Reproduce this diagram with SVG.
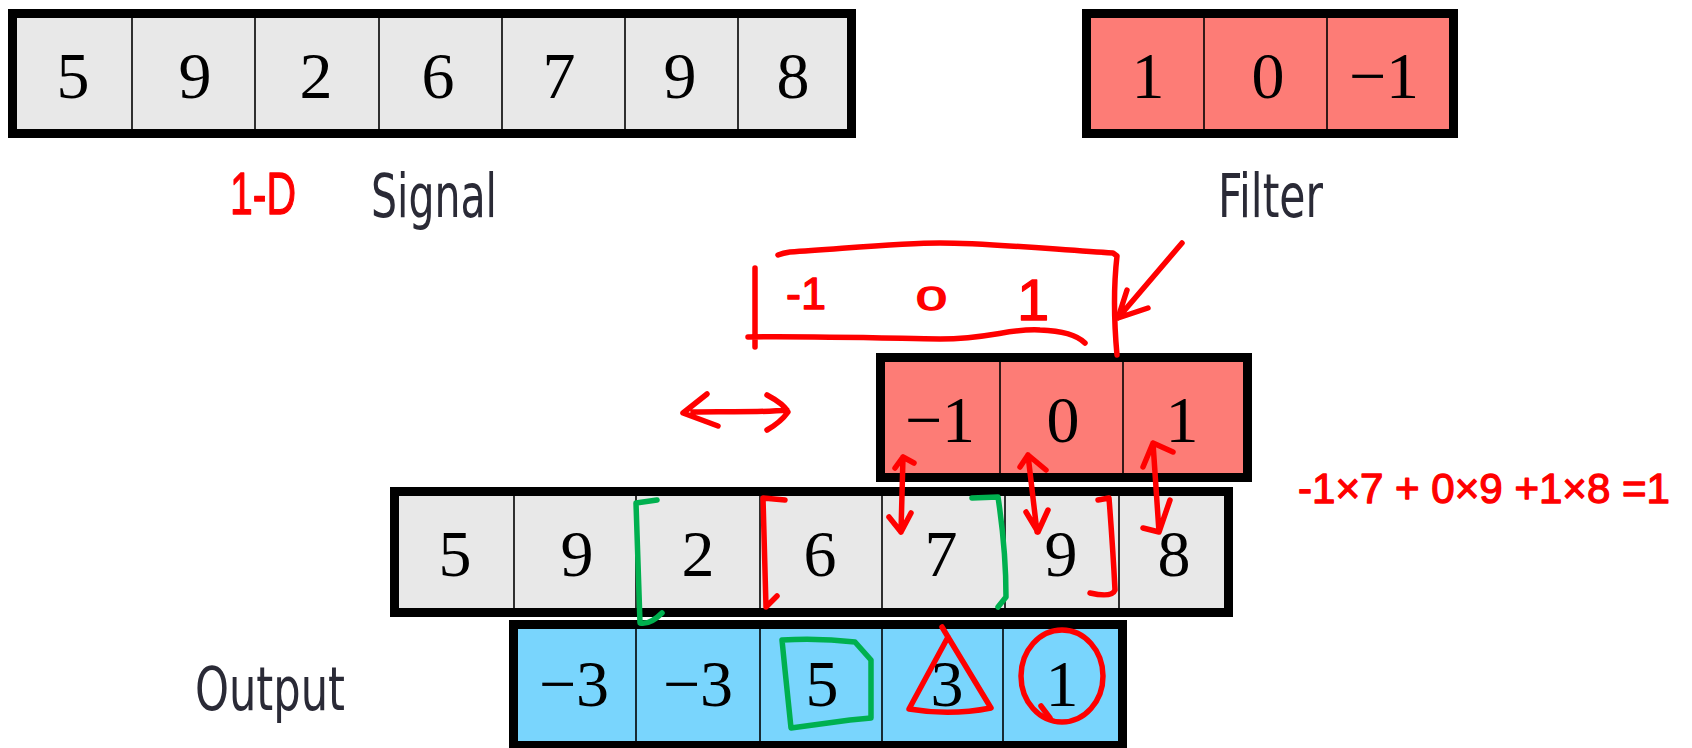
<svg xmlns="http://www.w3.org/2000/svg" width="1692" height="748" viewBox="0 0 1692 748">
<style>
.box{stroke:#000;stroke-width:9}
.sig{fill:#e8e8e8}
.flt{fill:#fd7c76}
.out{fill:#79d5fd}
.div{stroke:#000;stroke-width:1.6}
.num{font-family:"Liberation Serif","Times New Roman",serif;font-size:66px;text-anchor:middle;fill:#000}
.lbl{font-family:"Liberation Sans Narrow","DejaVu Sans Condensed","Liberation Sans",sans-serif;font-stretch:condensed;font-size:60px;fill:#2a2a36}
.red{fill:none;stroke:#ff0000;stroke-width:5.5;stroke-linecap:round;stroke-linejoin:round}
.grn{fill:none;stroke:#00b04f;stroke-width:5.5;stroke-linecap:round;stroke-linejoin:round}
.ht{font-family:"Liberation Sans",Arial,sans-serif;fill:#ff0000;stroke:#ff0000;stroke-width:1.3;stroke-linejoin:round}
</style>
<rect width="1692" height="748" fill="#fff"/>

<g id="signal">
<rect class="box sig" x="12.5" y="13.5" width="839" height="120"/>
<g class="div"><line x1="132" y1="18" x2="132" y2="129"/><line x1="255" y1="18" x2="255" y2="129"/><line x1="379" y1="18" x2="379" y2="129"/><line x1="502" y1="18" x2="502" y2="129"/><line x1="625" y1="18" x2="625" y2="129"/><line x1="738" y1="18" x2="738" y2="129"/></g>
<g class="num"><text x="73" y="98">5</text><text x="195" y="98">9</text><text x="316" y="98">2</text><text x="438" y="98">6</text><text x="559" y="98">7</text><text x="680" y="98">9</text><text x="793" y="98">8</text></g>
</g>

<g id="filter">
<rect class="box flt" x="1086.5" y="13.5" width="367" height="120"/>
<g class="div"><line x1="1204" y1="18" x2="1204" y2="129"/><line x1="1327" y1="18" x2="1327" y2="129"/></g>
<g class="num"><text x="1148" y="98">1</text><text x="1268" y="98">0</text><text x="1384" y="98">−1</text></g>
</g>

<text id="signal-label" class="lbl" x="371" y="217" textLength="126" lengthAdjust="spacingAndGlyphs">Signal</text>
<text id="filter-label" class="lbl" x="1218" y="217" textLength="105" lengthAdjust="spacingAndGlyphs">Filter</text>
<text id="output-label" class="lbl" x="195" y="710" textLength="150" lengthAdjust="spacingAndGlyphs">Output</text>

<g id="flipped-filter">
<rect class="box flt" x="880.5" y="357.5" width="367" height="120"/>
<g class="div"><line x1="1000" y1="362" x2="1000" y2="473"/><line x1="1123" y1="362" x2="1123" y2="473"/></g>
<g class="num"><text x="940" y="442">−1</text><text x="1063" y="442">0</text><text x="1182" y="442">1</text></g>
</g>

<g id="signal-shifted">
<rect class="box sig" x="394.5" y="491.5" width="834" height="121"/>
<g class="div"><line x1="514" y1="496" x2="514" y2="608"/><line x1="636" y1="496" x2="636" y2="608"/><line x1="760" y1="496" x2="760" y2="608"/><line x1="882" y1="496" x2="882" y2="608"/><line x1="1005" y1="496" x2="1005" y2="608"/><line x1="1119" y1="496" x2="1119" y2="608"/></g>
<g class="num"><text x="455" y="576">5</text><text x="577" y="576">9</text><text x="698" y="576">2</text><text x="820" y="576">6</text><text x="941" y="576">7</text><text x="1061" y="576">9</text><text x="1174" y="576">8</text></g>
</g>

<g id="output">
<rect class="box out" x="513.5" y="624.5" width="609" height="121"/>
<g class="div"><line x1="636" y1="629" x2="636" y2="742"/><line x1="760" y1="629" x2="760" y2="742"/><line x1="882" y1="629" x2="882" y2="742"/><line x1="1003" y1="629" x2="1003" y2="742"/></g>
<g class="num"><text x="574" y="706">−3</text><text x="698" y="706">−3</text><text x="822" y="706">5</text><text x="947" y="706">3</text><text x="1062" y="706">1</text></g>
</g>

<g id="connectors">
<path class="red" d="M693,412 C720,411 760,413 787,410 M707,394 L683,413 L718,426 M767,395 Q784,404 788,412 Q781,422 767,430"/>
<path class="red" d="M903,457 L901,532 M895,468 L903,457 L914,463 M889,517 L901,532 L911,513"/>
<path class="red" d="M1028,455 L1037,532 M1020,467 L1028,455 L1046,470 M1026,512 L1038,532 L1048,510"/>
<path class="red" d="M1153,443 L1159,532 M1143,467 L1153,443 L1173,452 M1143,528 L1159,532 L1170,500"/>
<path class="red" d="M1182,243 L1118,318 M1127,290 L1118,318 L1148,308"/>
</g>

<g id="annotations">
<text class="ht" x="230" y="214" font-size="60" textLength="66" lengthAdjust="spacingAndGlyphs">1-D</text>
<path class="red" d="M778,255 Q783,253 790,252 C840,249 900,243 940,243 C990,243 1060,250 1113,253 L1117,256 Q1112,300 1117,355"/>
<path class="red" d="M748,337 C800,336 880,338 940,339 C990,339 1010,328 1040,330 C1070,331 1080,338 1085,343 M755,268 L755,347"/>
<text class="ht" x="786" y="309" font-size="44" textLength="40" lengthAdjust="spacingAndGlyphs">-1</text>
<text class="ht" x="916" y="310" font-size="33" textLength="31" lengthAdjust="spacingAndGlyphs">0</text>
<text class="ht" x="1017" y="320" font-size="58">1</text>
<text class="ht" x="1298" y="503" font-size="42" textLength="372" lengthAdjust="spacingAndGlyphs">-1×7 + 0×9 +1×8 =1</text>
<path class="red" d="M785,500 L763,498 L766,607 L777,596"/>
<path class="red" d="M1098,500 L1109,498 Q1113,550 1115,590 Q1112,598 1090,593"/>
<path class="grn" d="M657,500 L636,503 L640,623 Q650,625 662,613"/>
<path class="grn" d="M972,498 L998,497 Q1006,550 1006,597 L998,607"/>
<path class="grn" d="M782,640 Q820,638 855,642 L871,660 L871,718 L850,720 Q820,724 791,728 L785,670 Z"/>
<path class="red" d="M942,627 L948,637 L991,708 Q950,716 909,709 L948,637"/>
<ellipse class="red" cx="1062" cy="676" rx="41" ry="46"/>
<path class="red" d="M1041,706 L1050,718"/>
</g>
</svg>
